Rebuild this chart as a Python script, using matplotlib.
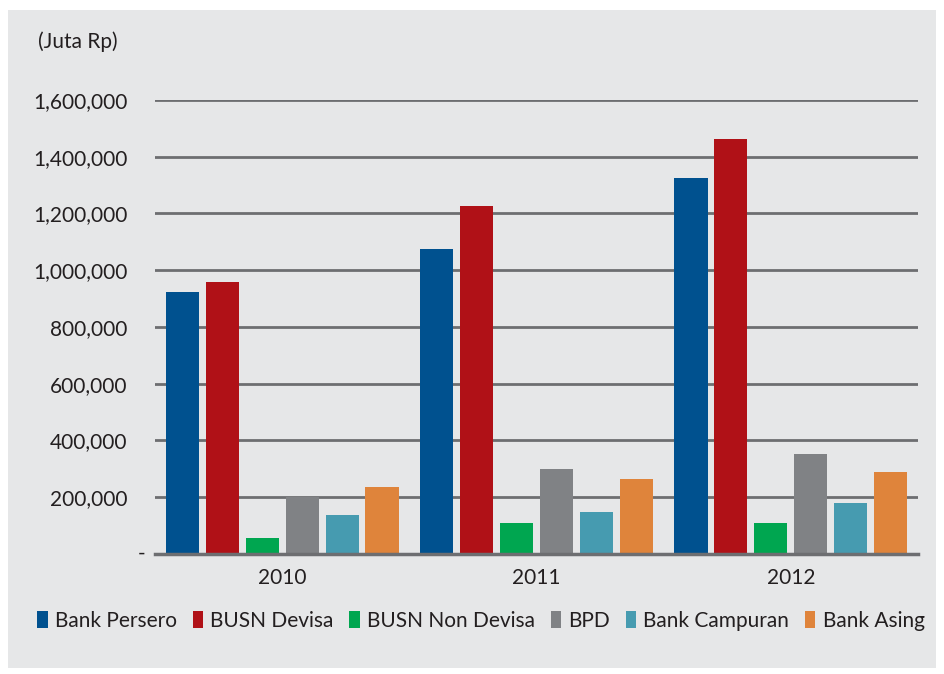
import matplotlib.pyplot as plt
import numpy as np
from matplotlib.patches import Rectangle
from matplotlib.ticker import FuncFormatter

# total assets per bank group (juta Rp)
years = ['2010', '2011', '2012']
groups = ['Bank Persero', 'BUSN Devisa', 'BUSN Non Devisa', 'BPD', 'Bank Campuran', 'Bank Asing']
bank_persero = [923000, 1075000, 1325000]
busn_devisa = [958000, 1226000, 1463000]
busn_non_devisa = [56000, 109000, 109000]
bpd = [201000, 300000, 352000]
bank_campuran = [137000, 148000, 180000]
bank_asing = [236000, 264000, 289000]

colors = ['#00518f', '#b01117', '#00a650', '#808285', '#469bb0', '#df843b']
bg = '#e6e7e8'

plt.rcParams['font.family'] = ['Lato', 'DejaVu Sans']

fig = plt.figure(figsize=(9.44, 6.74), dpi=100)
fig.patch.set_facecolor('white')
fig.patches.append(Rectangle((8 / 944, 1 - 668 / 674), 928 / 944, 658 / 674,
                             transform=fig.transFigure, facecolor=bg,
                             edgecolor='none', zorder=-5))

ax = fig.add_axes([155 / 944, 1 - 554 / 674, 763 / 944, 454 / 674])
ax.set_zorder(1)
ax.set_facecolor(bg)

series = [bank_persero, busn_devisa, busn_non_devisa, bpd, bank_campuran, bank_asing]
x = np.arange(len(years))
step = 0.157
width = 0.13
for i, (vals, name, c) in enumerate(zip(series, groups, colors)):
    ax.bar(x + (i - 2.5) * step, vals, width, color=c, label=name, zorder=3)

ax.set_xlim(-0.5, 2.5)
ax.set_ylim(0, 1600000)
ax.set_yticks(np.arange(0, 1600001, 200000))
ax.yaxis.set_major_formatter(FuncFormatter(lambda v, p: '' if v == 0 else '{:,.0f}'.format(v)))
# zero is shown as a dash, sitting closer to the axis
ax.text(-0.012, 0, '-', transform=ax.get_yaxis_transform(), ha='right', va='center',
        fontsize=15, color='#231f20')
ax.set_xticks(x)
ax.set_xticklabels(years)
ax.grid(axis='y', color='#6d6e71', linewidth=2, zorder=1)
for s in ax.spines.values():
    s.set_visible(False)
ax.axhline(0, color='#6d6e71', linewidth=2.5, zorder=4, clip_on=False)
ax.tick_params(axis='both', length=0, labelsize=15, colors='#231f20')
ax.tick_params(axis='y', pad=20)
ax.tick_params(axis='x', pad=10)

fig.text(38 / 944, 1 - 42 / 674, '(Juta Rp)', fontsize=15, color='#231f20', va='center')

fig.legend(loc='center', bbox_to_anchor=(481 / 944, 1 - 621 / 674), ncol=6, frameon=False,
           fontsize=15, handlelength=0.5, handleheight=0.9, handletextpad=0.35,
           columnspacing=0.75, labelcolor='#231f20')

fig.savefig('out.png', dpi=100, facecolor=fig.get_facecolor())
